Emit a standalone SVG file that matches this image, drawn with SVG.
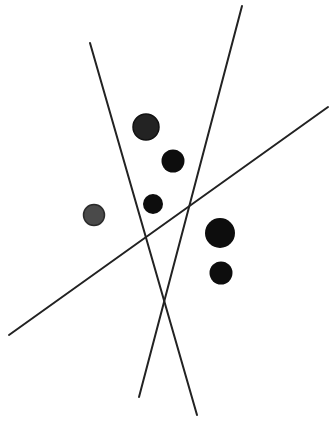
<svg xmlns="http://www.w3.org/2000/svg" width="330" height="421" viewBox="0 0 330 421">
<style>
.ln{stroke:#222;stroke-width:2;stroke-linecap:round;fill:none}
.dk{fill:#0d0d0d}
.tx{fill:#232323;stroke:#111;stroke-width:1.5}
.gy{fill:#4a4a4a;stroke:#2a2a2a;stroke-width:1.5}
</style>
<rect width="330" height="421" fill="#fff"/>
<g id="connectors">
<line class="ln" x1="90" y1="43" x2="197" y2="415"/>
<line class="ln" x1="242" y1="6" x2="139" y2="397"/>
<line class="ln" x1="328" y1="107" x2="9" y2="335"/>
</g>
<g id="dot1"><circle class="tx" cx="146" cy="127" r="13"/></g>
<g id="dot2"><circle class="dk" cx="173" cy="161" r="11.5"/></g>
<g id="dot3"><circle class="dk" cx="153" cy="204" r="10"/></g>
<g id="dot4"><circle class="gy" cx="94" cy="215" r="10.5"/></g>
<g id="dot5"><circle class="dk" cx="220" cy="233" r="15"/></g>
<g id="dot6"><circle class="dk" cx="221" cy="273" r="11.5"/></g>
</svg>
